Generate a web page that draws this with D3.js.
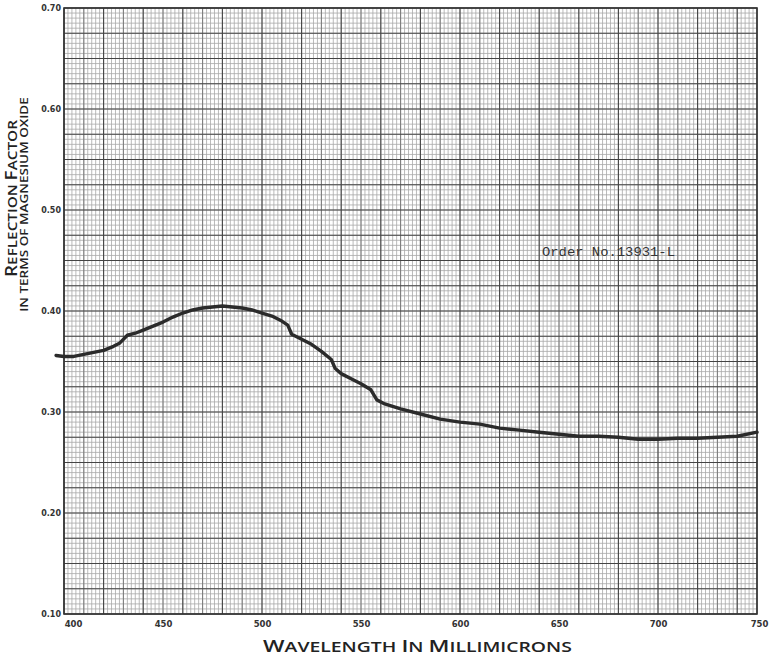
<!DOCTYPE html>
<html>
<head>
<meta charset="utf-8">
<script src="https://cdn.jsdelivr.net/npm/d3@7"></script>
<style>
  body { margin: 0; background: #fff; }
  svg { display: block; }
</style>
</head>
<body>
<div id="chart"></div>
<script>
// wavelength (millimicrons) and reflection factor
var wavelength = [396, 400, 405, 410, 415, 420, 425, 428, 432, 436, 440, 445, 450, 455, 460, 465, 470, 475, 480, 485, 490, 495, 500, 505, 510, 513, 515, 520, 525, 530, 535, 537, 540, 545, 550, 555, 558, 562, 570, 580, 590, 600, 610, 620, 630, 640, 650, 660, 670, 680, 690, 700, 710, 720, 730, 740, 750];
var reflection = [0.356, 0.355, 0.355, 0.357, 0.359, 0.361, 0.365, 0.368, 0.376, 0.378, 0.381, 0.385, 0.389, 0.394, 0.398, 0.401, 0.403, 0.404, 0.405, 0.404, 0.403, 0.401, 0.398, 0.395, 0.390, 0.386, 0.377, 0.372, 0.367, 0.360, 0.352, 0.343, 0.338, 0.333, 0.328, 0.322, 0.312, 0.308, 0.303, 0.298, 0.293, 0.290, 0.288, 0.284, 0.282, 0.280, 0.278, 0.276, 0.276, 0.275, 0.273, 0.273, 0.274, 0.274, 0.275, 0.276, 0.280];

var xTicks = [400, 450, 500, 550, 600, 650, 700, 750];
var yTicks = [0.10, 0.20, 0.30, 0.40, 0.50, 0.60, 0.70];
var orderLabel = "Order No.13931-L";

(function (){
    var width = 769, height = 659;
    var pl = 64, pr = 757, pt = 8, pb = 614;

    var svg = d3.select("#chart").append("svg")
        .attr("width", width)
        .attr("height", height);

    var x = d3.scaleLinear().domain([400, 750]).range([pl, pr]);
    var y = d3.scaleLinear().domain([0.10, 0.70]).range([pb, pt]);

    var grid = svg.append("g");

    // graph paper: fine lines, then heavier rulings
    function vlines(vals, col, w) {
        grid.append("g").selectAll("line").data(vals).enter().append("line")
            .attr("x1", function(d){ return x(d) }).attr("x2", function(d){ return x(d) })
            .attr("y1", pt).attr("y2", pb)
            .attr("stroke", col).attr("stroke-width", w);
    }
    function hlines(vals, col, w) {
        grid.append("g").selectAll("line").data(vals).enter().append("line")
            .attr("y1", function(d){ return y(d) }).attr("y2", function(d){ return y(d) })
            .attr("x1", pl).attr("x2", pr)
            .attr("stroke", col).attr("stroke-width", w);
    }
    vlines(d3.range(400, 750.01, 2), "#a8a8a8", 0.8);
    hlines(d3.range(0.10, 0.7001, 0.005), "#a8a8a8", 0.8);
    vlines(d3.range(410, 750.01, 20), "#7a7a7a", 1);
    vlines(d3.range(400, 750.01, 20), "#444", 1.1);
    hlines(d3.range(0.10, 0.7001, 0.025), "#444", 1.1);

    // frame
    svg.append("rect")
        .attr("x", pl).attr("y", pt)
        .attr("width", pr - pl).attr("height", pb - pt)
        .attr("fill", "none").attr("stroke", "#333").attr("stroke-width", 1.6);

    // axes (labels only)
    var xAxis = svg.append("g")
        .attr("transform", "translate(0," + (pb + 4) + ")")
        .call(d3.axisBottom(x).tickValues(xTicks).tickSize(0).tickFormat(d3.format("d")));
    xAxis.select(".domain").remove();
    xAxis.selectAll("text")
        .attr("font-family", "DejaVu Sans").attr("font-size", 8.5).attr("font-weight", "bold")
        .attr("fill", "#333");
    xAxis.selectAll("text").filter(function(d){ return d === 400 }).attr("dx", 9);
    xAxis.selectAll("text").filter(function(d){ return d === 750 }).attr("dx", 2);

    var yAxis = svg.append("g")
        .attr("transform", "translate(" + (pl - 1) + ",0)")
        .call(d3.axisLeft(y).tickValues(yTicks).tickSize(0).tickPadding(2).tickFormat(d3.format(".2f")));
    yAxis.select(".domain").remove();
    yAxis.selectAll("text")
        .attr("font-family", "DejaVu Sans").attr("font-size", 8).attr("font-weight", "bold")
        .attr("fill", "#333");

    // trace
    var line = d3.line()
        .x(function(d, i){ return x(wavelength[i]) })
        .y(function(d){ return y(d) });

    svg.append("path")
        .datum(reflection)
        .attr("d", line)
        .attr("fill", "none")
        .attr("stroke", "#2b2b2b")
        .attr("stroke-width", 3.4)
        .attr("stroke-linejoin", "round")
        .attr("stroke-linecap", "round");

    // typed order number
    svg.append("text")
        .attr("x", 542).attr("y", 256)
        .attr("font-family", "Liberation Mono").attr("font-size", 13.5)
        .attr("textLength", 133).attr("lengthAdjust", "spacingAndGlyphs")
        .attr("fill", "#333")
        .text(orderLabel);

    // small-caps titles, squeezed to the reference length
    function smallCaps(sel, parts, big, small) {
        parts.forEach(function(p){
            sel.append("tspan").attr("font-size", big).text(p[0]);
            sel.append("tspan").attr("font-size", small).text(p[1]);
        });
    }
    function title(cx, cy, rot, len) {
        var g = svg.append("g");
        var t = g.append("text")
            .attr("text-anchor", "middle")
            .attr("font-family", "Open Sans").attr("font-weight", 600)
            .attr("fill", "#222");
        return { g: g, t: t, fit: function(){
            var w = t.node().getComputedTextLength();
            g.attr("transform", "translate(" + cx + "," + cy + ") rotate(" + rot + ") scale(" + (len / w) + ",1)");
        }};
    }

    var xt = title(417.5, 652, 0, 309);
    smallCaps(xt.t, [["W", "AVELENGTH "], ["I", "N "], ["M", "ILLIMICRONS"]], 17, 14.5);
    xt.fit();

    var yt1 = title(17, 198.5, -90, 157);
    smallCaps(yt1.t, [["R", "EFLECTION "], ["F", "ACTOR"]], 16, 13);
    yt1.fit();

    var yt2 = title(28, 204.5, -90, 215);
    yt2.t.attr("font-size", 10.5).text("IN TERMS OF MAGNESIUM OXIDE");
    yt2.fit();
})();
</script>
</body>
</html>
